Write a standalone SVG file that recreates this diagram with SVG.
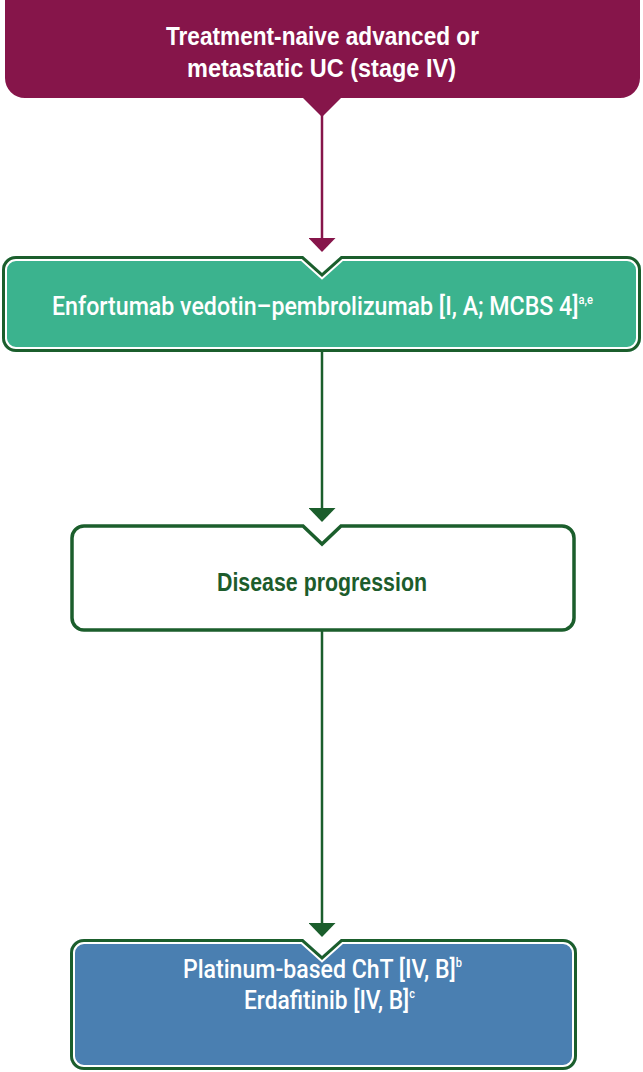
<svg xmlns="http://www.w3.org/2000/svg" width="643" height="1072" viewBox="0 0 643 1072">
  <style>
    .lbl { font-family: "Liberation Sans Narrow", "Liberation Sans", Arial, sans-serif; text-anchor: start; }
    .med { font-family: Roboto, "Liberation Sans", Arial, sans-serif; font-weight: 500; }
    .white { fill: #ffffff; }
    .bold { font-weight: bold; }
    .sup { font-size: 12px; }
    .conn-red { stroke: #86154a; stroke-width: 2.5; fill: none; }
    .conn-green { stroke: #1b5e2c; stroke-width: 2.5; fill: none; }
  </style>
  <defs>
    <marker id="head-red" viewBox="0 0 14 27" refX="9" refY="13.5" markerWidth="14" markerHeight="27" markerUnits="userSpaceOnUse" orient="auto">
      <path d="M0,0 L14,13.5 L0,27 Z" fill="#86154a"/>
    </marker>
    <marker id="head-green" viewBox="0 0 14 27" refX="9" refY="13.5" markerWidth="14" markerHeight="27" markerUnits="userSpaceOnUse" orient="auto">
      <path d="M0,0 L14,13.5 L0,27 Z" fill="#1b5e2c"/>
    </marker>
    <!-- notched box outlines -->
    <path id="shape-ev" d="M16,256 H303 L322,273 L341,256 H627 A14,14 0 0 1 641,270 V338 A14,14 0 0 1 627,352 H16 A14,14 0 0 1 2,338 V270 A14,14 0 0 1 16,256 Z"/>
    <path id="shape-plat" d="M84,939 H303 L322,956 L341,939 H563 A14,14 0 0 1 577,953 V1056 A14,14 0 0 1 563,1070 H84 A14,14 0 0 1 70,1056 V953 A14,14 0 0 1 84,939 Z"/>
    <clipPath id="clip-ev"><use href="#shape-ev"/></clipPath>
    <clipPath id="clip-plat"><use href="#shape-plat"/></clipPath>
  </defs>

  <!-- connectors -->
  <g id="connectors">
    <line class="conn-red" x1="322" y1="115" x2="322" y2="247" marker-end="url(#head-red)"/>
    <line class="conn-green" x1="322" y1="352" x2="322" y2="517" marker-end="url(#head-green)"/>
    <line class="conn-green" x1="322" y1="630" x2="322" y2="932" marker-end="url(#head-green)"/>
  </g>

  <!-- start node -->
  <g id="node-start">
    <path d="M5,-20 H640 V78 A20,20 0 0 1 620,98 H341 L322,117 L303,98 H25 A20,20 0 0 1 5,78 Z" fill="#86154a"/>
    <text class="lbl white bold" x="166" y="45" font-size="25" textLength="313" lengthAdjust="spacingAndGlyphs">Treatment-naive advanced or</text>
    <text class="lbl white bold" x="187" y="77" font-size="25" textLength="269" lengthAdjust="spacingAndGlyphs">metastatic UC (stage IV)</text>
  </g>

  <!-- first-line treatment -->
  <g id="node-ev-pembro">
    <use href="#shape-ev" fill="#3bb38e"/>
    <use href="#shape-ev" fill="none" stroke="#ffffff" stroke-width="10" clip-path="url(#clip-ev)"/>
    <use href="#shape-ev" fill="none" stroke="#1b5e2c" stroke-width="6" clip-path="url(#clip-ev)"/>
    <text class="lbl med white" x="52" y="315" font-size="25" textLength="541" lengthAdjust="spacingAndGlyphs">Enfortumab vedotin–pembrolizumab [I, A; MCBS 4]<tspan class="sup" dy="-11">a,e</tspan></text>
  </g>

  <!-- progression -->
  <g id="node-progression">
    <path d="M84,526 H303 L322,544 L341,526 H562 A12,12 0 0 1 574,538 V618 A12,12 0 0 1 562,630 H84 A12,12 0 0 1 72,618 V538 A12,12 0 0 1 84,526 Z" fill="#ffffff" stroke="#1b5e2c" stroke-width="3.5"/>
    <text class="lbl bold" x="217" y="591" font-size="25" fill="#1d5c2c" textLength="210" lengthAdjust="spacingAndGlyphs">Disease progression</text>
  </g>

  <!-- second-line options -->
  <g id="node-second-line">
    <use href="#shape-plat" fill="#4a7fb1"/>
    <use href="#shape-plat" fill="none" stroke="#ffffff" stroke-width="10" clip-path="url(#clip-plat)"/>
    <use href="#shape-plat" fill="none" stroke="#1b5e2c" stroke-width="6" clip-path="url(#clip-plat)"/>
    <text class="lbl med white" x="183" y="978" font-size="25" textLength="279" lengthAdjust="spacingAndGlyphs">Platinum-based ChT [IV, B]<tspan class="sup" dy="-11">b</tspan></text>
    <text class="lbl med white" x="244" y="1009" font-size="25" textLength="171" lengthAdjust="spacingAndGlyphs">Erdafitinib [IV, B]<tspan class="sup" dy="-11">c</tspan></text>
  </g>
</svg>
